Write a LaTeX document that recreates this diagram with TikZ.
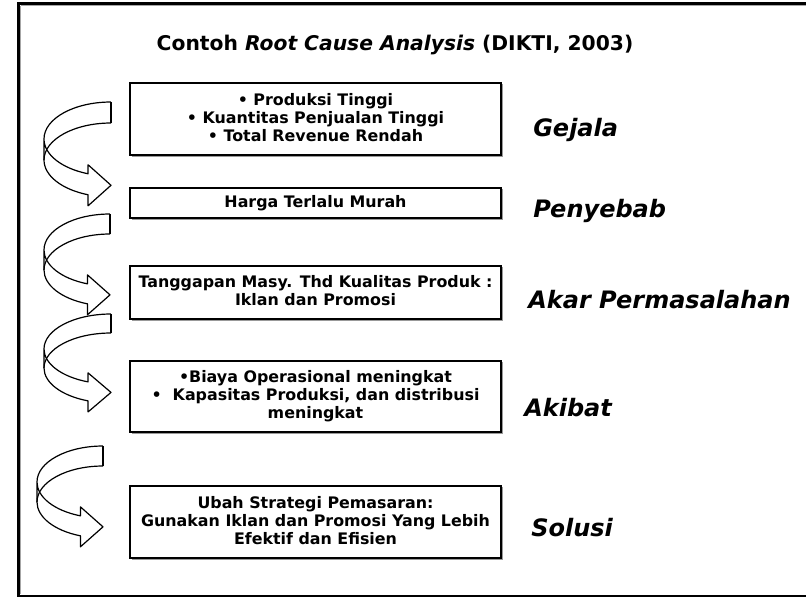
\documentclass[tikz,border=0pt]{standalone}
\usepackage{fontspec}
\setmainfont{DejaVu Sans}
\begin{document}
\begin{tikzpicture}[x=0.75pt,y=-0.75pt,
  frame/.style={draw=black,line width=2},
  framegray/.style={draw=black!35,line width=1},
  stepbox/.style={draw=black,line width=0.9,fill=white},
  boxshadow/.style={draw=black!40,line width=1},
  boxtext/.style={align=center,font=\fontsize{11.9pt}{13.5pt}\selectfont\bfseries,inner sep=0},
  titletext/.style={font=\fontsize{15.2pt}{18pt}\selectfont\bfseries,inner sep=0},
  stagelabel/.style={anchor=west,font=\fontsize{18pt}{21pt}\selectfont\bfseries\itshape,inner sep=0},
  bandline/.style={draw=black,line width=0.9,line join=round}
]
\useasboundingbox (0,0) rectangle (806,597);

% outer frame (right side runs past the page edge)
\begin{scope}
\clip (0,0) rectangle (806,597);
\draw[frame] (18.5,3.5) rectangle (830,596);
\draw[framegray] (20.5,5.5) -- (830,5.5);
\draw[framegray] (20.5,5.5) -- (20.5,594);
\end{scope}

% title
\node[titletext] (title) at (395,45) {Contoh \textit{Root Cause Analysis} (DIKTI, 2003)};

% step boxes
\newcommand\stepframe[3]{%
  \draw[boxshadow] (131.5,#3+1) -- (502,#3+1) -- (502,#2+1);
  \draw[stepbox] (130,#2) rectangle (501,#3);
  \coordinate (#1) at (315.5,{(#2+#3)/2});
}
\stepframe{b1}{83}{155}
\stepframe{b2}{188}{218}
\stepframe{b3}{266}{319}
\stepframe{b4}{361}{432}
\stepframe{b5}{486}{558}

\node[boxtext] (t1) at (315.5,118) {• Produksi Tinggi\\• Kuantitas Penjualan Tinggi\\• Total Revenue Rendah};
\node[boxtext] (t2) at (315.5,203) {Harga Terlalu Murah};
\node[boxtext] (t3) at (315.5,291) {Tanggapan Masy. Thd Kualitas Produk :\\Iklan dan Promosi};
\node[boxtext] (t4) at (315.5,396) {•Biaya Operasional meningkat\\•\ \ Kapasitas Produksi, dan distribusi\\meningkat};
\node[boxtext] (t5) at (315.5,521) {Ubah Strategi Pemasaran:\\Gunakan Iklan dan Promosi Yang Lebih\\Efektif dan Efisien};

% stage labels
\node[stagelabel] (l1) at (533,130) {Gejala};
\node[stagelabel] (l2) at (533,211) {Penyebab};
\node[stagelabel] (l3) at (528,300) {Akar Permasalahan};
\node[stagelabel] (l4) at (524,408) {Akibat};
\node[stagelabel] (l5) at (531,528) {Solusi};

% curved ribbon arrows: #1,#2 tail top corner, #3 band width, #4,#5 ellipse radii
\newcommand\bentarrow[5]{%
\begin{scope}[shift={(#1,#2)}]
  \draw[bandline] (0,0) arc[start angle=270,end angle=180,x radius=#4,y radius=#5]
    -- ++(0,#3) arc[start angle=180,end angle=110,x radius=#4,y radius=#5]
    -- ({-0.342*#4},{1.94*#5+#3+11})
    -- (0,{1.94*#5+#3/2+1})
    -- ({-0.342*#4},{1.94*#5-9})
    -- ({-0.342*#4},{1.94*#5})
    arc[start angle=110,end angle=180,x radius=#4,y radius=#5];
  \draw[bandline] (0,#3) arc[start angle=270,end angle=180,x radius=#4,y radius=#5];
  \draw[bandline] (0,0) -- (0,#3);
\end{scope}}
\bentarrow{111}{102}{21}{67}{37}
\bentarrow{110}{214}{20}{66}{36}
\bentarrow{111}{314}{19}{67}{35}
\bentarrow{103}{446}{20}{66}{36}
\end{tikzpicture}
\end{document}
